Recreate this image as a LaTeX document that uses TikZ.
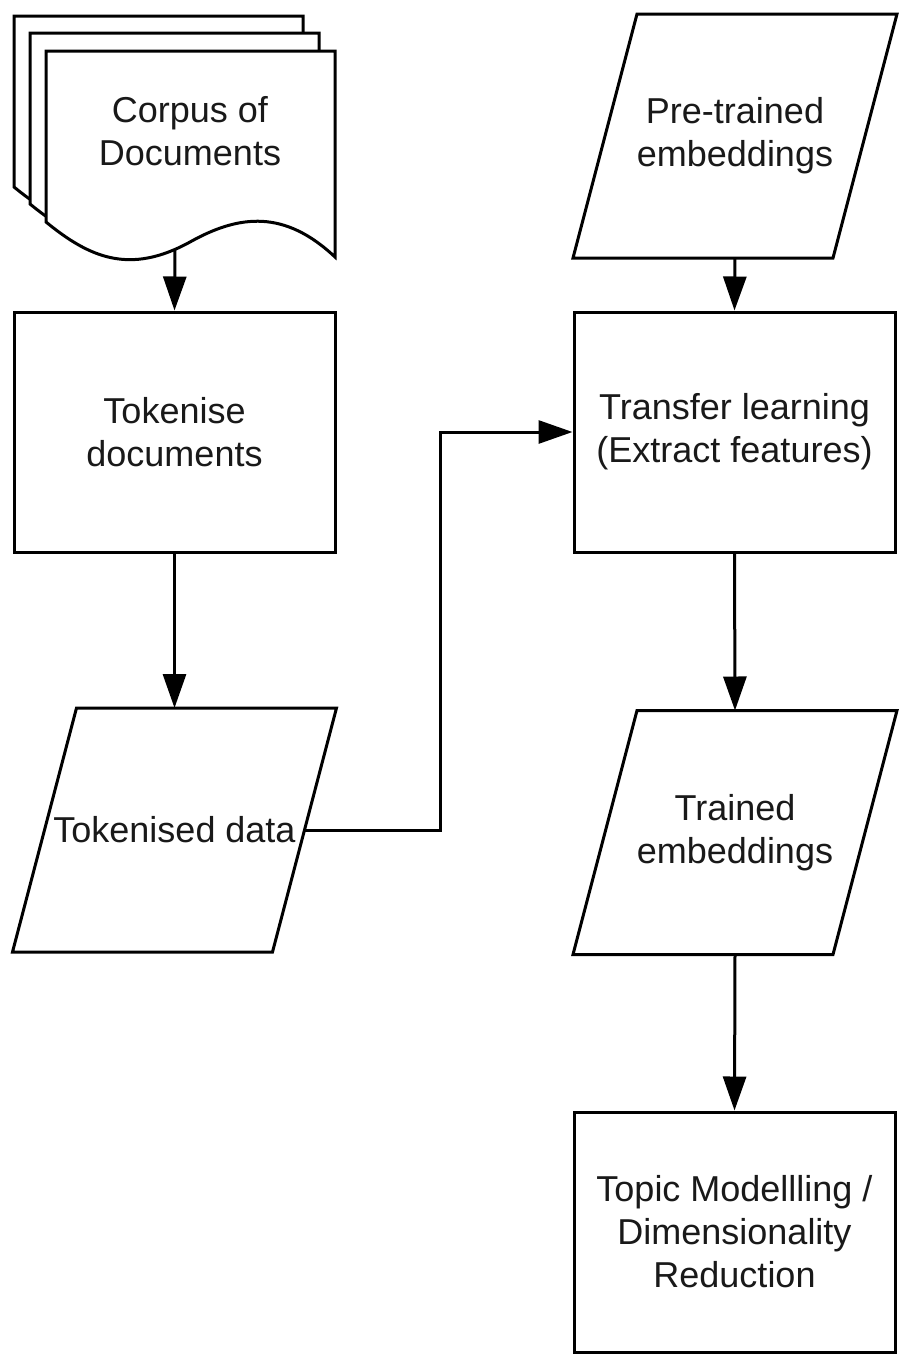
\documentclass[tikz,border=0pt]{standalone}
\usepackage{fontspec}
\setmainfont{Liberation Sans}
\usetikzlibrary{arrows.meta,calc}
\begin{document}
\begin{tikzpicture}[x=1pt,y=-1pt,line width=3pt,
  txt/.style={align=center,font=\fontsize{36}{43}\selectfont,text=black!90},
  box/.style={txt,draw,minimum width=321pt,minimum height=240pt,inner sep=0pt},
  frame/.style={txt,minimum width=321pt,minimum height=241pt,inner sep=0pt},
  arr/.style={-{Triangle[length=34pt,width=23pt]}}]
\useasboundingbox (0,0) rectangle (899,1355);
\fill[white] (0,0) rectangle (899,1355);

% stack of documents (back to front)
\foreach \dx/\dy in {-32/-35,-16/-18,0/0}{
  \draw[fill=white,shift={(\dx,\dy)}]
    (46,51) -- (335,51) -- (335,257)
    .. controls (285,210) and (240,214) .. (190,242)
    .. controls (130,275) and (90,258) .. (46,222) -- cycle;
}
\node[txt] (corpus) at (190,131) {Corpus of\\Documents};
\coordinate (docout) at (175,249);

% left column
\node[box] (tok) at (174.5,432) {Tokenise\\documents};
\node[frame] (td) at (174.5,830) {Tokenised data};
\draw ($(td.north west)+(64,0)$) -- (td.north east)
  -- ($(td.south east)+(-64,0)$) -- (td.south west) -- cycle;
\coordinate (tdr) at ($(td.east)+(-32,0)$);

% right column
\node[frame] (pre) at (735,136) {Pre-trained\\embeddings};
\draw ($(pre.north west)+(64,0)$) -- (pre.north east)
  -- ($(pre.south east)+(-64,0)$) -- (pre.south west) -- cycle;
\node[box] (tl) at (734.5,432) {Transfer learning\\(Extract features)};
\node[frame] (te) at (735,832.5) {Trained\\embeddings};
\draw ($(te.north west)+(64,0)$) -- (te.north east)
  -- ($(te.south east)+(-64,0)$) -- (te.south west) -- cycle;
\node[box] (topic) at (734.5,1232) {Topic Modellling /\\Dimensionality\\Reduction};

% connectors
\draw[arr] (docout) -- (tok.north);
\draw[arr] (tok.south) -- (td.north);
\draw[arr] (tdr) -- ++(136,0) |- (tl.west);
\draw[arr] (pre.south) -- (tl.north);
\draw[arr] (tl.south) -- (te.north);
\draw[arr] (te.south) -- (topic.north);
\end{tikzpicture}
\end{document}
